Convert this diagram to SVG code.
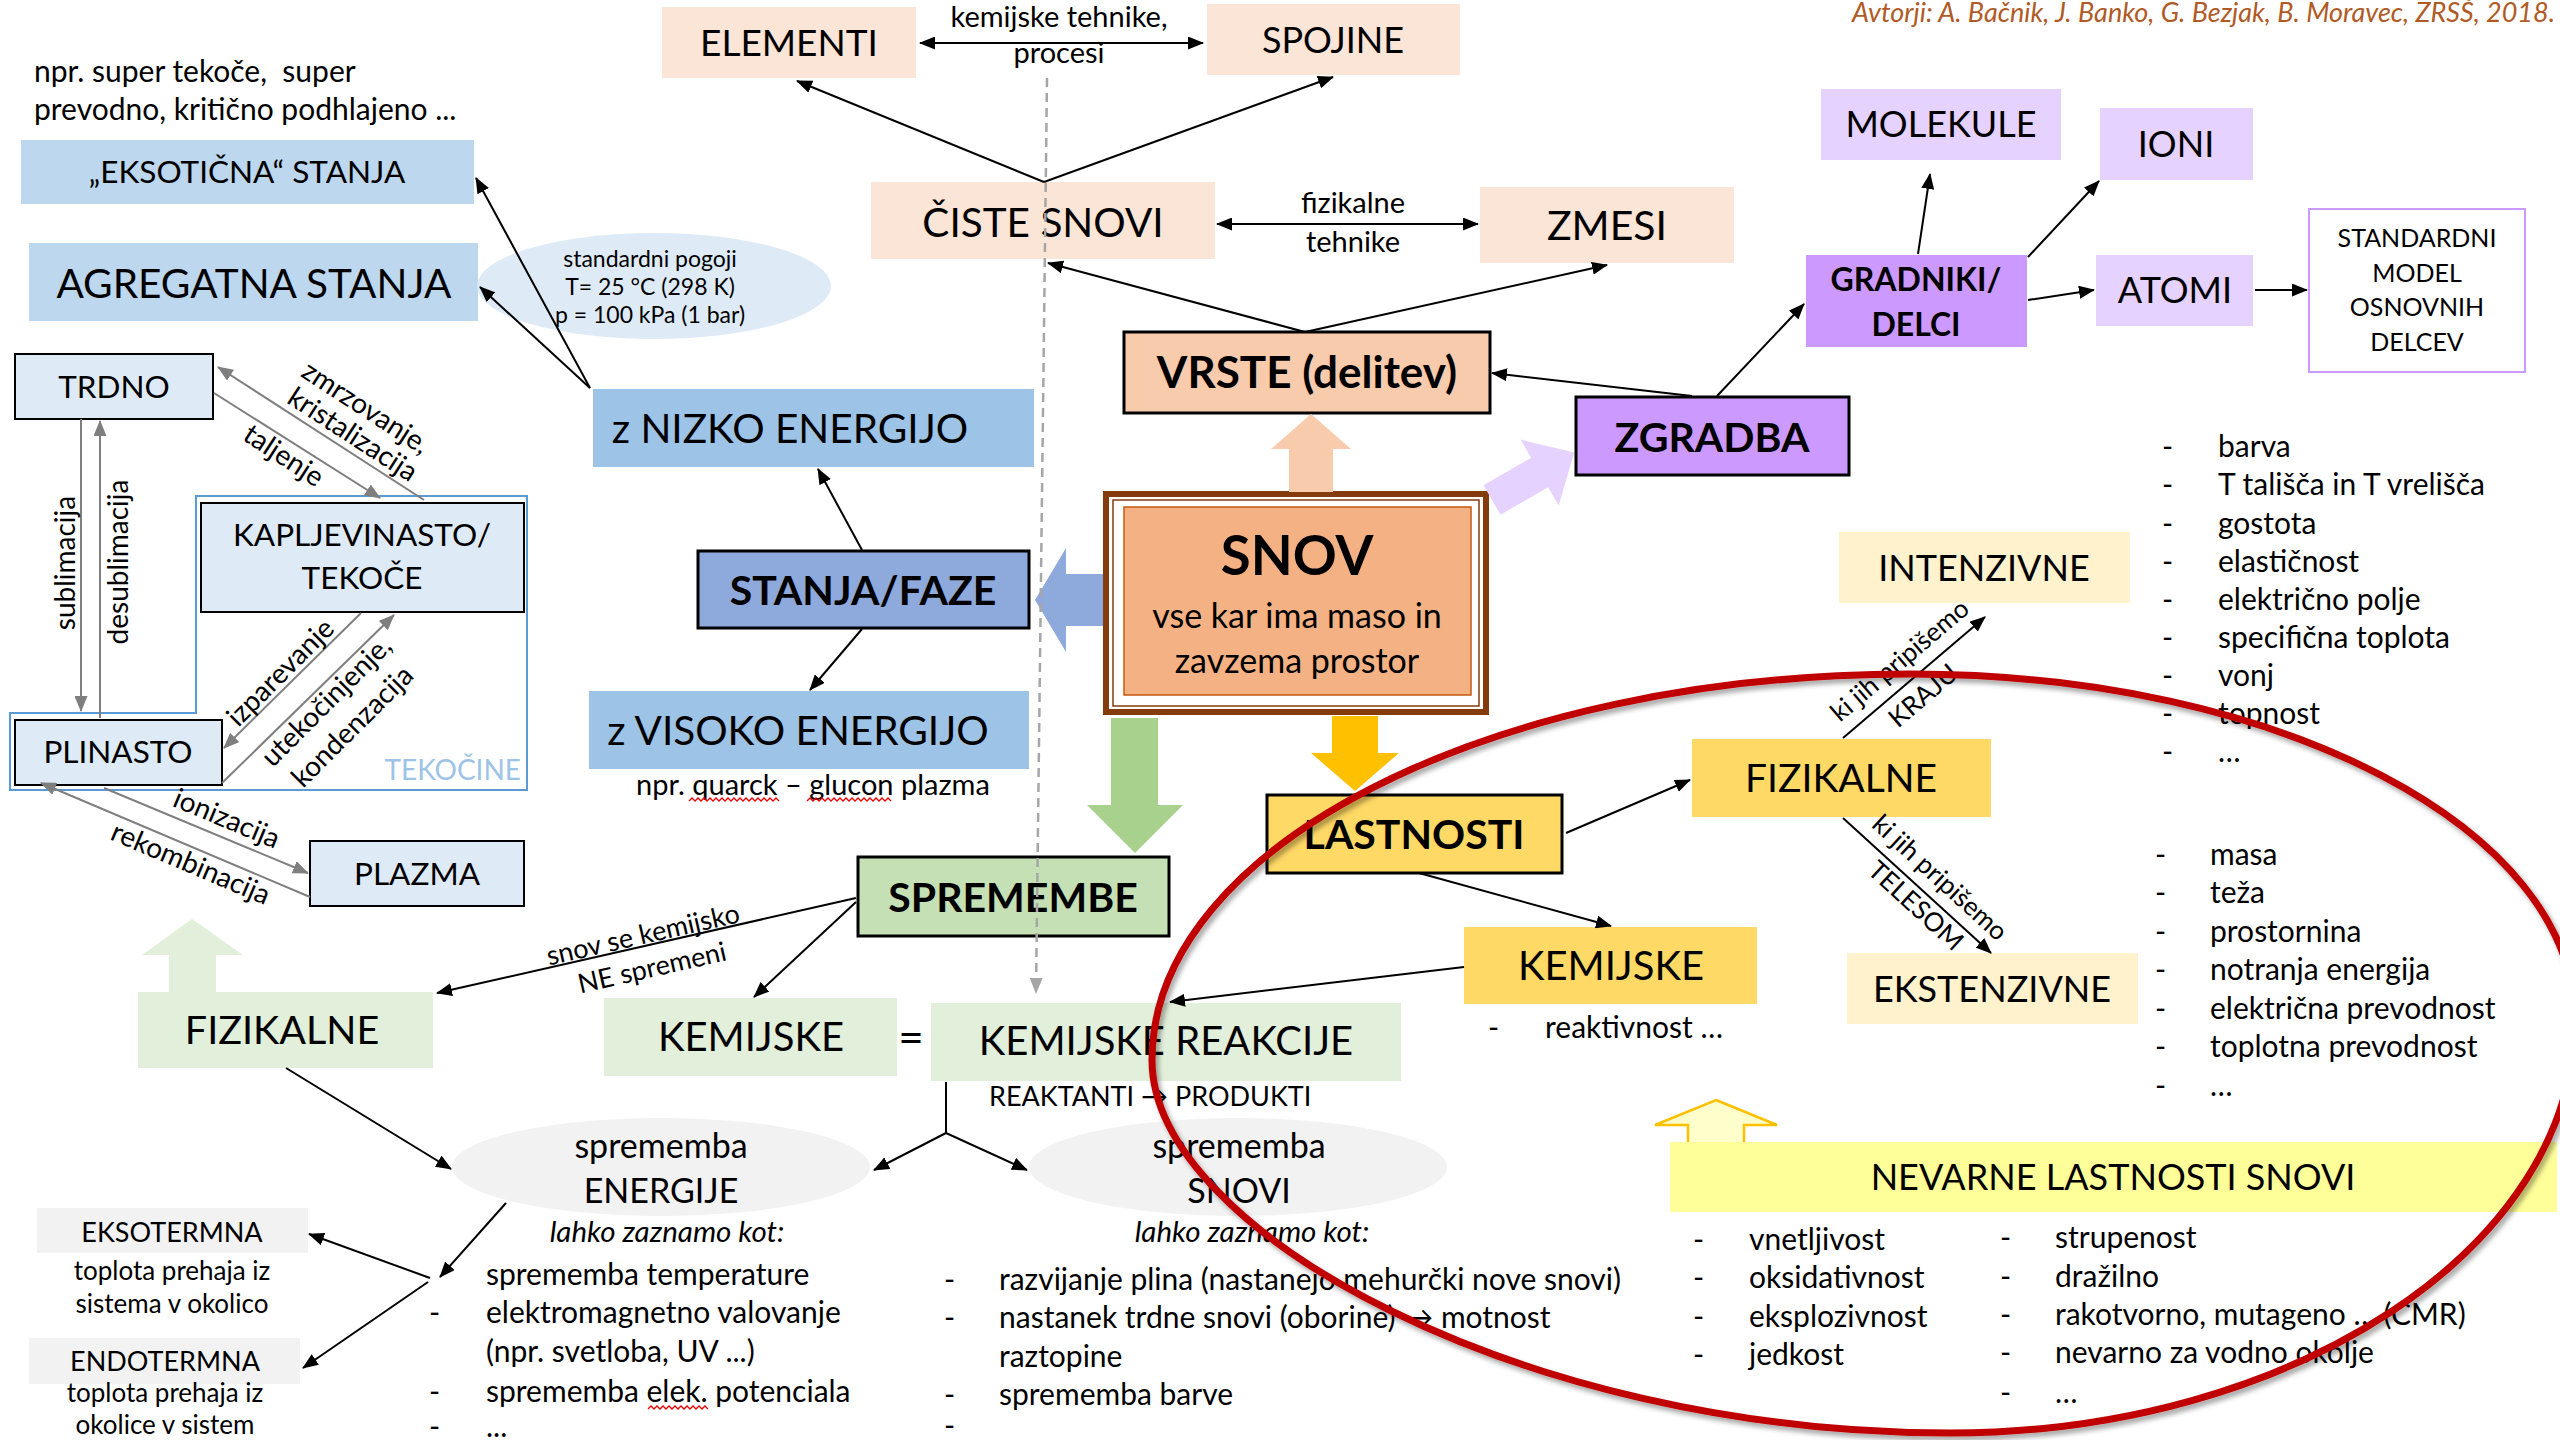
<svg xmlns="http://www.w3.org/2000/svg" width="2560" height="1440" viewBox="0 0 2560 1440">
<defs>
<style>
text{font-family:Lato,'Liberation Sans',sans-serif;fill:#000}
.m{text-anchor:middle}
.e{text-anchor:end}
.b{font-weight:700}
.i{font-style:italic}
.bx{stroke:#000;stroke-width:3}
.bt{stroke:#000;stroke-width:2}
.ln{stroke:#000;stroke-width:2;fill:none;marker-end:url(#ah)}
.l2{marker-start:url(#ah)}
.lg{stroke:#7F7F7F;stroke-width:2;fill:none;marker-end:url(#ag)}
.sq{stroke:#E60000;stroke-width:1.3;fill:none}
.s23{font-size:23px}.s25{font-size:25px}.s26{font-size:26px}.s27{font-size:27px}.s28{font-size:28px}.s29{font-size:29px}.s30{font-size:30px}
.s31{font-size:31.5px}.s36{font-size:36px}.s37{font-size:37px}.s39{font-size:39px}.s40{font-size:40px}.s41{font-size:41px}.s44{font-size:44px}
.peach{fill:#FBE5D6}.lav{fill:#E6D2FF}.pur{fill:#CC99FF}.ylw{fill:#FFD966}.cream{fill:#FFF2CC}.lgr{fill:#E2EFDA}.gry{fill:#F2F2F2}.lbl{fill:#DEEBF7}
</style>
<marker id="ah" viewBox="0 0 16 13" refX="15" refY="6.5" markerWidth="16" markerHeight="13" markerUnits="userSpaceOnUse" orient="auto-start-reverse"><path d="M0,0L16,6.5L0,13z" fill="#000"/></marker>
<marker id="ag" viewBox="0 0 16 13" refX="15" refY="6.5" markerWidth="16" markerHeight="13" markerUnits="userSpaceOnUse" orient="auto-start-reverse"><path d="M0,0L16,6.5L0,13z" fill="#7F7F7F"/></marker>
<marker id="ad" viewBox="0 0 16 13" refX="15" refY="6.5" markerWidth="16" markerHeight="13" markerUnits="userSpaceOnUse" orient="auto"><path d="M0,0L16,6.5L0,13z" fill="#A6A6A6"/></marker>
<filter id="shd" x="-5%" y="-5%" width="110%" height="110%"><feDropShadow dx="3" dy="4" stdDeviation="2.5" flood-color="#000" flood-opacity="0.35"/></filter>
</defs>
<rect width="2560" height="1440" fill="#fff"/>

<g id="author"><text x="2555" y="22" class="e i s27" style="fill:#B05A26">Avtorji: A. Bačnik, J. Banko, G. Bezjak, B. Moravec, ZRSŠ, 2018.</text></g>

<g id="note-eksoticna">
<text x="34" y="82" class="s30">npr. super tekoče,&#160; super</text>
<text x="34" y="120" class="s30">prevodno, kritično podhlajeno ...</text>
</g>
<g id="eksoticna-stanja"><rect x="21" y="140" width="453" height="64" fill="#BDD7EE"/><text x="247" y="183" class="m s31">„EKSOTIČNA“ STANJA</text></g>
<g id="agregatna-stanja"><rect x="29" y="243" width="449" height="78" fill="#BDD7EE"/><text x="254" y="298" style="font-size:40.5px" class="m">AGREGATNA STANJA</text></g>
<g id="standardni-pogoji"><ellipse cx="654" cy="286" rx="177" ry="53" class="lbl"/>
<text x="650" y="267" class="m s23">standardni pogoji</text>
<text x="650" y="295" class="m s23">T= 25 °C (298 K)</text>
<text x="650" y="323" class="m s23">p = 100 kPa (1 bar)</text></g>

<g id="tekocine"><path d="M196,496H527V790H10V713H196Z" fill="none" stroke="#5B9BD5" stroke-width="2"/><text x="521" y="780" class="e s28" style="fill:#9DC3E6">TEKOČINE</text></g>
<g id="trdno"><rect x="15" y="354" width="198" height="65" class="lbl bt"/><text x="114" y="398" class="m s31">TRDNO</text></g>
<g id="kapljevinasto"><rect x="201" y="503" width="323" height="109" class="lbl bt"/><text x="362" y="546" class="m s31">KAPLJEVINASTO/</text><text x="362" y="589" class="m s31">TEKOČE</text></g>
<g id="plinasto"><rect x="15" y="720" width="207" height="65" class="lbl bt"/><text x="118" y="763" class="m s31">PLINASTO</text></g>
<g id="plazma"><rect x="310" y="841" width="214" height="65" class="lbl bt"/><text x="417" y="885" class="m s31">PLAZMA</text></g>

<g id="nizka-energija"><rect x="593" y="389" width="441" height="78" fill="#9DC3E6"/><text x="790" y="443" style="font-size:40.5px" class="m">z NIZKO ENERGIJO</text></g>
<g id="stanja-faze"><rect x="698" y="551" width="331" height="77" fill="#8EA9DB" class="bx"/><text x="863" y="605" class="m b s41">STANJA/FAZE</text></g>
<g id="visoka-energija"><rect x="589" y="691" width="440" height="78" fill="#9DC3E6"/><text x="798" y="745" style="font-size:40.5px" class="m">z VISOKO ENERGIJO</text>
<text x="813" y="795" class="m s29">npr. quarck – glucon plazma</text>
<path class="sq" d="M689,801l3,-3 3,3 3,-3 3,3 3,-3 3,3 3,-3 3,3 3,-3 3,3 3,-3 3,3 3,-3 3,3 3,-3 3,3 3,-3 3,3 3,-3 3,3 3,-3 3,3 3,-3 3,3 3,-3 3,3 3,-3 3,3 3,-3 3,3"/>
<path class="sq" d="M807,801l3,-3 3,3 3,-3 3,3 3,-3 3,3 3,-3 3,3 3,-3 3,3 3,-3 3,3 3,-3 3,3 3,-3 3,3 3,-3 3,3 3,-3 3,3 3,-3 3,3 3,-3 3,3 3,-3 3,3 3,-3 3,3"/></g>

<g id="snov">
<rect x="1106" y="494" width="380" height="218" fill="#fff" stroke="#843C0C" stroke-width="6"/>
<rect x="1113" y="500" width="366" height="206" fill="none" stroke="#843C0C" stroke-width="1.5"/>
<rect x="1124" y="507" width="347" height="188" fill="#F4B183" stroke="#C55A11" stroke-width="1.5"/>
<text x="1297" y="575" style="font-size:54.5px" class="m b">SNOV</text>
<text x="1297" y="628" class="m" style="font-size:34px">vse kar ima maso in</text>
<text x="1297" y="673" class="m" style="font-size:34px">zavzema prostor</text>
</g>

<g id="elementi"><rect x="662" y="7" width="254" height="71" class="peach"/><text x="789" y="56" class="m s37">ELEMENTI</text></g>
<g id="spojine"><rect x="1207" y="4" width="253" height="71" class="peach"/><text x="1333" y="53" class="m s36">SPOJINE</text></g>
<g id="ciste-snovi"><rect x="871" y="182" width="344" height="77" class="peach"/><text x="1043" y="237" style="font-size:40.5px" class="m">ČISTE SNOVI</text></g>
<g id="zmesi"><rect x="1480" y="187" width="254" height="76" class="peach"/><text x="1607" y="240" class="m s41">ZMESI</text></g>
<g id="vrste"><rect x="1124" y="332" width="366" height="81" fill="#F8CBAD" class="bx"/><text x="1307" y="388" class="m b s44">VRSTE (delitev)</text></g>

<g id="zgradba"><rect x="1576" y="397" width="273" height="78" class="pur bx"/><text x="1712" y="452" class="m b s41">ZGRADBA</text></g>
<g id="molekule"><rect x="1821" y="89" width="240" height="71" class="lav"/><text x="1941" y="137" class="m s36">MOLEKULE</text></g>
<g id="ioni"><rect x="2100" y="108" width="153" height="72" class="lav"/><text x="2176" y="157" class="m s36">IONI</text></g>
<g id="gradniki"><rect x="1806" y="255" width="221" height="92" class="pur"/><text x="1916" y="291" class="m b" style="font-size:32px">GRADNIKI/</text><text x="1916" y="336" class="m b" style="font-size:32px">DELCI</text></g>
<g id="atomi"><rect x="2096" y="255" width="157" height="71" class="lav"/><text x="2175" y="303" class="m s36">ATOMI</text></g>
<g id="standardni-model"><rect x="2309" y="209" width="216" height="163" fill="#fff" stroke="#CC99FF" stroke-width="2"/>
<text x="2417" y="247" class="m s25">STANDARDNI</text><text x="2417" y="282" class="m s25">MODEL</text><text x="2417" y="316" class="m s25">OSNOVNIH</text><text x="2417" y="351" class="m s25">DELCEV</text></g>

<g id="lastnosti"><rect x="1267" y="795" width="295" height="78" class="ylw bx"/><text x="1414" y="849" class="m b s41">LASTNOSTI</text></g>
<g id="fizikalne-lastnosti"><rect x="1692" y="739" width="299" height="78" class="ylw"/><text x="1841" y="792" class="m s39">FIZIKALNE</text></g>
<g id="kemijske-lastnosti"><rect x="1464" y="927" width="293" height="77" class="ylw"/><text x="1611" y="980" class="m s40">KEMIJSKE</text>
<text x="1488" y="1038" class="s30">-</text><text x="1545" y="1038" class="s30">reaktivnost …</text></g>
<g id="intenzivne"><rect x="1839" y="532" width="291" height="71" class="cream"/><text x="1984" y="581" class="m s36">INTENZIVNE</text></g>
<g id="ekstenzivne"><rect x="1847" y="953" width="291" height="71" class="cream"/><text x="1992" y="1002" class="m s36">EKSTENZIVNE</text></g>
<g id="intenzivne-seznam" class="s30">
<text x="2162" y="457">-</text><text x="2218" y="457">barva</text>
<text x="2162" y="495">-</text><text x="2218" y="495">T tališča in T vrelišča</text>
<text x="2162" y="534">-</text><text x="2218" y="534">gostota</text>
<text x="2162" y="572">-</text><text x="2218" y="572">elastičnost</text>
<text x="2162" y="610">-</text><text x="2218" y="610">električno polje</text>
<text x="2162" y="648">-</text><text x="2218" y="648">specifična toplota</text>
<text x="2162" y="686">-</text><text x="2218" y="686">vonj</text>
<text x="2162" y="724">-</text><text x="2218" y="724">topnost</text>
<text x="2162" y="762">-</text><text x="2218" y="762">…</text>
</g>
<g id="ekstenzivne-seznam" class="s30">
<text x="2155" y="865">-</text><text x="2210" y="865">masa</text>
<text x="2155" y="903">-</text><text x="2210" y="903">teža</text>
<text x="2155" y="942">-</text><text x="2210" y="942">prostornina</text>
<text x="2155" y="980">-</text><text x="2210" y="980">notranja energija</text>
<text x="2155" y="1019">-</text><text x="2210" y="1019">električna prevodnost</text>
<text x="2155" y="1057">-</text><text x="2210" y="1057">toplotna prevodnost</text>
<text x="2155" y="1096">-</text><text x="2210" y="1096">…</text>
</g>

<g id="nevarne-puscica"><polygon points="1716,1100 1777,1125 1744,1125 1744,1150 1688,1150 1688,1125 1655,1125" fill="#FFFFCC" stroke="#FFC000" stroke-width="2.5"/></g>
<g id="nevarne"><rect x="1670" y="1142" width="887" height="70" fill="#FFFF99"/><text x="2113" y="1190" class="m s36">NEVARNE LASTNOSTI SNOVI</text></g>
<g id="nevarne-seznam" class="s30">
<text x="1693" y="1250">-</text><text x="1749" y="1250">vnetljivost</text>
<text x="1693" y="1288">-</text><text x="1749" y="1288">oksidativnost</text>
<text x="1693" y="1327">-</text><text x="1749" y="1327">eksplozivnost</text>
<text x="1693" y="1365">-</text><text x="1749" y="1365">jedkost</text>
<text x="2000" y="1248">-</text><text x="2055" y="1248">strupenost</text>
<text x="2000" y="1287">-</text><text x="2055" y="1287">dražilno</text>
<text x="2000" y="1325">-</text><text x="2055" y="1325">rakotvorno, mutageno … (CMR)</text>
<text x="2000" y="1363">-</text><text x="2055" y="1363">nevarno za vodno okolje</text>
<text x="2000" y="1403">-</text><text x="2055" y="1403">…</text>
</g>

<g id="spremembe"><rect x="858" y="857" width="311" height="79" fill="#C5E0B4" class="bx"/><text x="1013" y="912" class="m b s41">SPREMEMBE</text></g>
<g id="fizikalne-spremembe"><rect x="138" y="992" width="295" height="76" class="lgr"/><text x="282" y="1044" style="font-size:39.5px" class="m">FIZIKALNE</text></g>
<g id="kemijske-spremembe"><rect x="604" y="998" width="293" height="78" class="lgr"/><text x="751" y="1051" class="m s40">KEMIJSKE</text><text x="911" y="1053" class="m s44">=</text></g>
<g id="kemijske-reakcije"><rect x="931" y="1003" width="470" height="78" class="lgr"/><text x="1166" y="1055" class="m s40">KEMIJSKE REAKCIJE</text>
<text x="989" y="1106" class="s27">REAKTANTI → PRODUKTI</text></g>
<g id="sprememba-energije"><ellipse cx="661" cy="1167" rx="209" ry="49" class="gry"/><text x="661" y="1158" class="m" style="font-size:34px">sprememba</text><text x="661" y="1203" class="m" style="font-size:34px">ENERGIJE</text>
<text x="667" y="1242" class="m i" style="font-size:29.5px">lahko zaznamo kot:</text></g>
<g id="sprememba-snovi"><ellipse cx="1238" cy="1167" rx="209" ry="49" class="gry"/><text x="1239" y="1158" class="m" style="font-size:34px">sprememba</text><text x="1239" y="1203" class="m" style="font-size:34px">SNOVI</text>
<text x="1252" y="1242" class="m i" style="font-size:29.5px">lahko zaznamo kot:</text></g>
<g id="energija-seznam" class="s30">
<text x="486" y="1285">sprememba temperature</text>
<text x="429" y="1323">-</text><text x="486" y="1323">elektromagnetno valovanje</text>
<text x="486" y="1362">(npr. svetloba, UV ...)</text>
<text x="429" y="1402">-</text><text x="486" y="1402">sprememba elek. potenciala</text>
<text x="429" y="1437">-</text><text x="486" y="1437">...</text>
<path class="sq" d="M648,1409l3,-3 3,3 3,-3 3,3 3,-3 3,3 3,-3 3,3 3,-3 3,3 3,-3 3,3 3,-3 3,3 3,-3 3,3 3,-3 3,3 3,-3 3,3"/>
</g>
<g id="snovi-seznam" class="s30">
<text x="944" y="1290">-</text><text x="999" y="1290">razvijanje plina (nastanejo mehurčki nove snovi)</text>
<text x="944" y="1328">-</text><text x="999" y="1328">nastanek trdne snovi (oborine) → motnost</text>
<text x="999" y="1367">raztopine</text>
<text x="944" y="1405">-</text><text x="999" y="1405">sprememba barve</text>
<text x="944" y="1436">-</text>
</g>
<g id="eksotermna"><rect x="37" y="1208" width="271" height="45" class="gry"/><text x="172" y="1242" class="m s27">EKSOTERMNA</text>
<text x="172" y="1280" class="m s26">toplota prehaja iz</text><text x="172" y="1313" class="m s26">sistema v okolico</text></g>
<g id="endotermna"><rect x="29" y="1338" width="271" height="46" class="gry"/><text x="165" y="1371" class="m s27">ENDOTERMNA</text>
<text x="165" y="1402" class="m s26">toplota prehaja iz</text><text x="165" y="1434" class="m s26">okolice v sistem</text></g>

<g id="connectors">
<polygon points="1311,414 1351,449 1333,449 1333,492 1289,492 1289,449 1271,449" fill="#F8CBAD"/>
<polygon points="0,-17 55,-17 55,-38 95,0 55,38 55,17 0,17" fill="#E6D2FF" transform="translate(1492,500) rotate(-30)"/>
<polygon points="1035,600 1066,548 1066,574 1103,574 1103,626 1066,626 1066,652" fill="#8EA9DB"/>
<polygon points="1111,718 1158,718 1158,805 1183,805 1135,853 1087,805 1111,805" fill="#A9D18E"/>
<polygon points="1332,716 1378,716 1378,753 1399,753 1355,791 1311,753 1332,753" fill="#FFC000"/>
<polygon points="192,919 243,955 216,955 216,992 169,992 169,955 142,955" fill="#E2EFDA"/>

<path class="ln l2" d="M920,43H1203"/>
<text x="1059" y="27" class="m s29">kemijske tehnike,</text><text x="1059" y="63" class="m s29">procesi</text>
<path class="ln" d="M1044,182L797,81"/>
<path class="ln" d="M1044,182L1333,77"/>
<path class="ln l2" d="M1217,224H1478"/>
<text x="1353" y="213" class="m s29">fizikalne</text><text x="1353" y="252" class="m s29">tehnike</text>
<path class="ln" d="M1305,332L1048,263"/>
<path class="ln" d="M1305,332L1607,265"/>
<path class="ln" d="M1692,396L1492,373"/>
<path class="ln" d="M1717,396L1804,304"/>
<path class="ln" d="M1918,254L1930,174"/>
<path class="ln" d="M2028,257L2099,181"/>
<path class="ln" d="M2028,300L2094,290"/>
<path class="ln" d="M2255,290H2307"/>

<path class="ln" d="M590,388L476,178"/>
<path class="ln" d="M590,388L480,287"/>
<path class="ln" d="M862,550L818,469"/>
<path class="ln" d="M862,629L810,690"/>

<path class="lg" d="M424,500L218,367"/>
<path class="lg" d="M214,393L380,498"/>
<text transform="translate(366,407) rotate(33)" y="10" class="m s28">zmrzovanje,</text>
<text transform="translate(353,434) rotate(33)" y="10" class="m s28">kristalizacija</text>
<text transform="translate(284,455) rotate(33)" y="10" class="m s28">taljenje</text>
<path class="lg" d="M81,419V711"/>
<path class="lg" d="M100,718V421"/>
<text transform="translate(65,563) rotate(-90)" y="10" class="m s28">sublimacija</text>
<text transform="translate(118,562) rotate(-90)" y="10" class="m s28">desublimacija</text>
<path class="lg" d="M361,613L224,748"/>
<path class="lg" d="M222,783L394,615"/>
<text transform="translate(280,672) rotate(-45)" y="10" class="m s28">izparevanje</text>
<text transform="translate(326,701) rotate(-45)" y="10" class="m s28">utekočinjenje,</text>
<text transform="translate(352,726) rotate(-45)" y="10" class="m s28">kondenzacija</text>
<path class="lg" d="M104,788L308,873"/>
<path class="lg" d="M310,897L41,783"/>
<text transform="translate(227,818) rotate(22.6)" y="10" class="m s28">ionizacija</text>
<text transform="translate(191,863) rotate(23)" y="10" class="m s28">rekombinacija</text>

<path class="ln" d="M856,898L437,993"/>
<text transform="translate(643,935) rotate(-12.8)" y="9" class="m s27">snov se kemijsko</text>
<text transform="translate(652,968) rotate(-12.8)" y="9" class="m s27">NE spremeni</text>
<path class="ln" d="M856,902L754,997"/>
<path class="ln" d="M286,1068L451,1169"/>
<path class="ln" d="M506,1203L440,1277"/>
<path class="ln" d="M430,1278L309,1234"/>
<path class="ln" d="M428,1282L303,1368"/>
<path stroke="#000" stroke-width="2" fill="none" d="M946,1082V1133"/>
<path class="ln" d="M946,1133L874,1170"/>
<path class="ln" d="M946,1133L1027,1170"/>

<path class="ln" d="M1566,833L1690,780"/>
<path class="ln" d="M1419,873L1611,926"/>
<path class="ln" d="M1464,967L1170,1002"/>
<path class="ln" d="M1843,738L1985,617"/>
<g transform="translate(1914,677) rotate(-40.4)"><text x="0" y="-13" class="m s26">ki jih pripišemo</text><text x="-5" y="29" class="m s26">KRAJU</text></g>
<path class="ln" d="M1843,818L1991,953"/>
<g transform="translate(1917,885) rotate(42.4)"><text x="12" y="-12" class="m s26">ki jih pripišemo</text><text x="13" y="25" class="m s26">TELESOM</text></g>

<path d="M1047,78L1036,993" stroke="#A6A6A6" stroke-width="2.5" stroke-dasharray="9 6" fill="none" marker-end="url(#ad)"/>
</g>

<g id="highlight-oval"><path d="M1152,1060C1152,847 1491,674 1910,674C2280,674 2575,829 2575,1020C2575,1248 2292,1433 1950,1433C1520,1433 1152,1230 1152,1060Z" fill="none" stroke="#C00000" stroke-width="7" filter="url(#shd)"/></g>
</svg>
